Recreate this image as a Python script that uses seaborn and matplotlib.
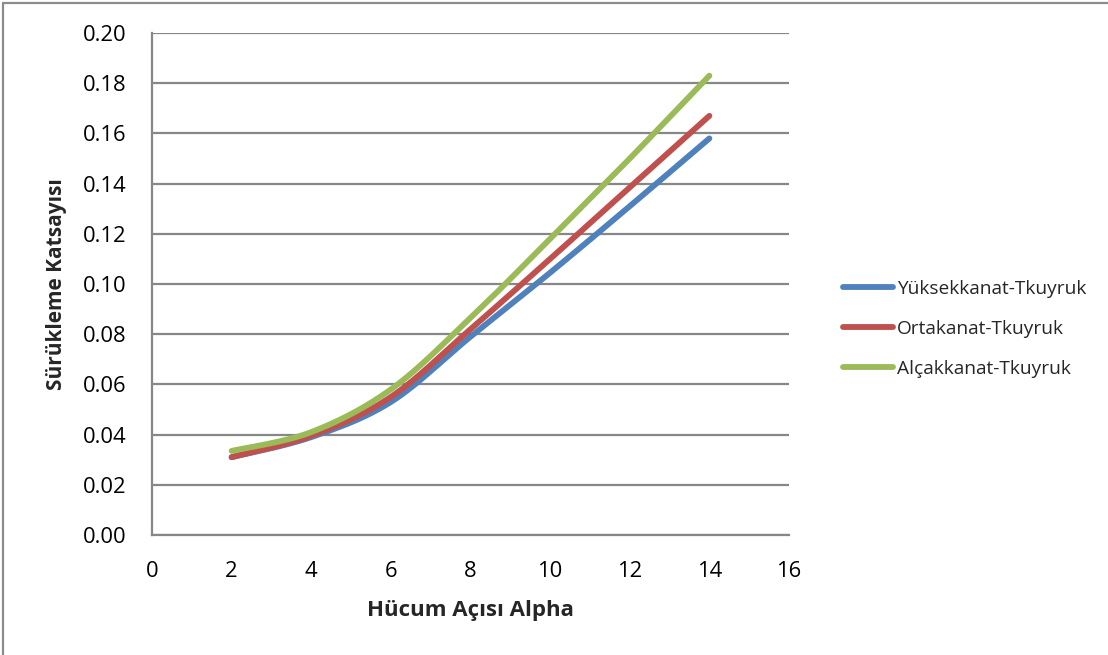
import numpy as np
import pandas as pd
import matplotlib
matplotlib.use("Agg")
import matplotlib.pyplot as plt
import seaborn as sns
from matplotlib.patches import Rectangle

# ---- data ----
alpha = [2, 4, 6, 8, 10, 12, 14]
series_names = ["Yüksekkanat-Tkuyruk", "Ortakanat-Tkuyruk", "Alçakkanat-Tkuyruk"]
cd_yuksek = [0.031, 0.039, 0.053, 0.079, 0.1045, 0.131, 0.158]
cd_orta = [0.031, 0.0395, 0.055, 0.082, 0.110, 0.1385, 0.167]
cd_alcak = [0.0335, 0.041, 0.058, 0.0865, 0.118, 0.150, 0.183]
x_ticks = [0, 2, 4, 6, 8, 10, 12, 14, 16]
y_ticks = [0.00, 0.02, 0.04, 0.06, 0.08, 0.10, 0.12, 0.14, 0.16, 0.18, 0.20]
colors = ["#4F81BD", "#C0504D", "#9BBB59"]


def smooth(xs, ys, n=30):
    """Excel-like smoothed line (Catmull-Rom / Bezier) through the points, for rendering."""
    xs = np.asarray(xs, float)
    ys = np.asarray(ys, float)
    P = np.column_stack([xs, ys])
    out = []
    for i in range(len(P) - 1):
        p0 = P[i - 1] if i > 0 else P[i]
        p1 = P[i]
        p2 = P[i + 1]
        p3 = P[i + 2] if i + 2 < len(P) else P[i + 1]
        c1 = p1 + (p2 - p0) / 6.0
        c2 = p2 - (p3 - p1) / 6.0
        t = np.linspace(0, 1, n, endpoint=(i == len(P) - 2))[:, None]
        b = (1 - t) ** 3 * p1 + 3 * (1 - t) ** 2 * t * c1 + 3 * (1 - t) * t ** 2 * c2 + t ** 3 * p2
        out.append(b)
    out = np.vstack(out)
    return out[:, 0], out[:, 1]


frames = []
for name, vals in zip(series_names, [cd_yuksek, cd_orta, cd_alcak]):
    sx, sy = smooth(alpha, vals)
    frames.append(pd.DataFrame({"alpha": sx, "cd": sy, "seri": name}))
df = pd.concat(frames, ignore_index=True)

sns.set_theme(style="white")
plt.rcParams["font.family"] = ["Open Sans", "DejaVu Sans"]

fig = plt.figure(figsize=(11.08, 6.55), dpi=100)
ax = fig.add_axes([152 / 1108, 1 - 535 / 655, (789 - 152) / 1108, (535 - 33) / 655])

sns.lineplot(data=df, x="alpha", y="cd", hue="seri", hue_order=series_names,
             palette=colors, sort=False, estimator=None, units="seri",
             linewidth=4.2, solid_capstyle="round", ax=ax, legend=True)

ax.set_xlim(0, 16)
ax.set_ylim(0, 0.20)
ax.set_xticks(x_ticks)
ax.set_yticks(y_ticks)
ax.set_xticklabels([str(v) for v in x_ticks])
ax.set_yticklabels([f"{v:.2f}" for v in y_ticks])
ax.tick_params(axis="both", length=0, labelsize=15.8, colors="black")
ax.tick_params(axis="y", pad=18)
ax.tick_params(axis="x", pad=19)

ax.yaxis.grid(True, color="#878787", linewidth=1.6)
ax.xaxis.grid(False)
ax.set_axisbelow(True)
for s in ["top", "right"]:
    ax.spines[s].set_visible(False)
for s in ["left", "bottom"]:
    ax.spines[s].set_color("#878787")
    ax.spines[s].set_linewidth(1.6)

ax.set_xlabel("Hücum Açısı Alpha", fontsize=16, fontweight="bold", labelpad=13)
ax.set_ylabel("Sürükleme Katsayısı", fontsize=15, fontweight="bold", labelpad=12)

leg = ax.legend(loc="center left", bbox_to_anchor=(843 / 1108, 1 - 329 / 655),
                bbox_transform=fig.transFigure, frameon=False, fontsize=13.8,
                handlelength=2.6, handletextpad=0.2, labelspacing=1.15, borderpad=0,
                borderaxespad=0)
for line in leg.get_lines():
    line.set_linewidth(4.2)
    line.set_solid_capstyle("round")

# outer chart border (partially visible, like the cropped reference)
fig.patches.append(Rectangle((3 / 1108, -0.05), 1.2, 1 - 3 / 655 + 0.05,
                             transform=fig.transFigure, fill=False,
                             edgecolor="#8c8c8c", linewidth=1.6))

fig.savefig("out.png", dpi=100)
